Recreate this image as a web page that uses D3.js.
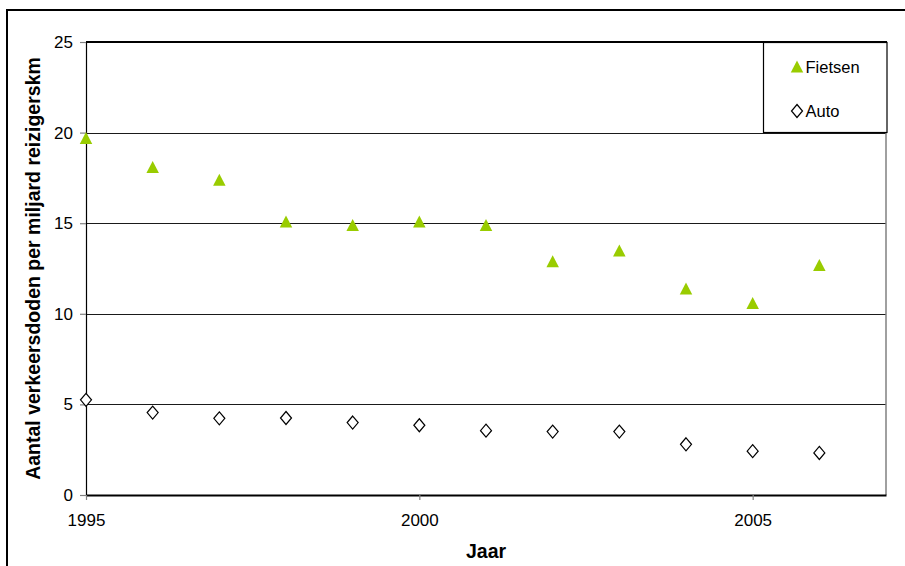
<!DOCTYPE html>
<html>
<head>
<meta charset="utf-8">
<script src="https://cdn.jsdelivr.net/npm/d3@7"></script>
<style>
  html, body { margin: 0; padding: 0; background: #fff; }
  svg { display: block; font-family: "Liberation Sans", Arial, sans-serif; }
</style>
</head>
<body>
<svg id="chart" width="905" height="566"></svg>
<script>
// Verkeersdoden per miljard reizigerskilometer, fiets vs. auto
const years = [1995, 1996, 1997, 1998, 1999, 2000, 2001, 2002, 2003, 2004, 2005, 2006];
const fietsen = [19.7, 18.1, 17.4, 15.1, 14.9, 15.1, 14.9, 12.9, 13.5, 11.4, 10.6, 12.7];
const auto = [5.25, 4.55, 4.23, 4.25, 4.0, 3.85, 3.55, 3.5, 3.5, 2.8, 2.42, 2.32];
const xTicks = [1995, 2000, 2005];
const yTicks = [0, 5, 10, 15, 20, 25];
const seriesNames = ["Fietsen", "Auto"];

const svg = d3.select("#chart");
const plot = { left: 86, right: 886, top: 42, bottom: 495 };

const x = d3.scaleLinear().domain([1995, 2007]).range([plot.left, plot.right]);
const y = d3.scaleLinear().domain([0, 25]).range([plot.bottom, plot.top]);

// Outer frame
svg.append("rect")
  .attr("x", 7).attr("y", 10)
  .attr("width", 1000).attr("height", 700)
  .attr("fill", "#fff").attr("stroke", "#000").attr("stroke-width", 2);

// Horizontal gridlines
svg.append("g").selectAll("line")
  .data(yTicks.filter(d => d > 0 && d < 25))
  .join("line")
  .attr("x1", plot.left).attr("x2", plot.right)
  .attr("y1", d => Math.round(y(d)) + 0.5).attr("y2", d => Math.round(y(d)) + 0.5)
  .attr("stroke", "#1a1a1a").attr("stroke-width", 1);

// Top border of the plot area
svg.append("line")
  .attr("x1", plot.left).attr("x2", plot.right + 1)
  .attr("y1", y(25)).attr("y2", y(25))
  .attr("stroke", "#000").attr("stroke-width", 2);

// Right border of the plot area
svg.append("line")
  .attr("x1", plot.right).attr("x2", plot.right)
  .attr("y1", plot.top).attr("y2", plot.bottom)
  .attr("stroke", "#808080").attr("stroke-width", 1.5);

// Y axis
const yAxis = d3.axisLeft(y).tickValues(yTicks).tickSize(6).tickPadding(7);
const gy = svg.append("g").attr("transform", `translate(${plot.left},0)`).call(yAxis);
gy.select(".domain").attr("stroke", "#000").attr("stroke-width", 1.2);
gy.selectAll(".tick line").attr("stroke", "#808080").attr("stroke-width", 1.2);
gy.selectAll(".tick text")
  .attr("font-size", 17).attr("fill", "#000")
  .attr("font-family", "Liberation Sans, Arial, sans-serif");

// X axis
const xAxis = d3.axisBottom(x).tickValues(xTicks).tickFormat(d3.format("d")).tickSize(5).tickPadding(14).tickSizeOuter(0);
const gx = svg.append("g").attr("transform", `translate(0,${plot.bottom})`).call(xAxis);
gx.select(".domain").attr("stroke", "#000").attr("stroke-width", 2);
gx.selectAll(".tick line").attr("stroke", "#808080").attr("stroke-width", 1.2);
gx.selectAll(".tick text")
  .attr("font-size", 17).attr("fill", "#000")
  .attr("font-family", "Liberation Sans, Arial, sans-serif");

// Axis titles
svg.append("text")
  .attr("x", (plot.left + plot.right) / 2).attr("y", 558)
  .attr("text-anchor", "middle")
  .attr("font-size", 19.5).attr("font-weight", "bold")
  .text("Jaar");

svg.append("text")
  .attr("transform", `translate(40,${(plot.top + plot.bottom) / 2}) rotate(-90)`)
  .attr("text-anchor", "middle")
  .attr("font-size", 19.5).attr("font-weight", "bold")
  .text("Aantal verkeersdoden per miljard reizigerskm");

// Marker shapes
const triW = 12.5, triH = 12;
const triangle = `M0,${-triH / 2}L${triW / 2},${triH / 2}L${-triW / 2},${triH / 2}Z`;
const dW = 11, dH = 13;
const diamond = `M0,${-dH / 2}L${dW / 2},0L0,${dH / 2}L${-dW / 2},0Z`;

// Fietsen series
svg.append("g").selectAll("path")
  .data(years.map((yr, i) => ({ yr, v: fietsen[i] })))
  .join("path")
  .attr("d", triangle)
  .attr("transform", d => `translate(${x(d.yr)},${y(d.v)})`)
  .attr("fill", "#99CC00");

// Auto series
svg.append("g").selectAll("path")
  .data(years.map((yr, i) => ({ yr, v: auto[i] })))
  .join("path")
  .attr("d", diamond)
  .attr("transform", d => `translate(${x(d.yr)},${y(d.v)})`)
  .attr("fill", "#fff").attr("stroke", "#000").attr("stroke-width", 1.2);

// Legend
const legend = svg.append("g");
legend.append("rect")
  .attr("x", 763.5).attr("y", 42.5).attr("width", 123.5).attr("height", 90)
  .attr("fill", "#fff").attr("stroke", "#000").attr("stroke-width", 1.2);
const legendShapes = [
  { d: triangle, fill: "#99CC00", stroke: "none" },
  { d: diamond, fill: "#fff", stroke: "#000" }
];
const legendRows = [66.5, 111];
seriesNames.forEach((name, i) => {
  legend.append("path")
    .attr("d", legendShapes[i].d)
    .attr("transform", `translate(797,${legendRows[i]})`)
    .attr("fill", legendShapes[i].fill)
    .attr("stroke", legendShapes[i].stroke)
    .attr("stroke-width", 1.2);
  legend.append("text")
    .attr("x", 805.5).attr("y", legendRows[i] + 6)
    .attr("font-size", 16.5).attr("fill", "#000")
    .text(name);
});
</script>
</body>
</html>
